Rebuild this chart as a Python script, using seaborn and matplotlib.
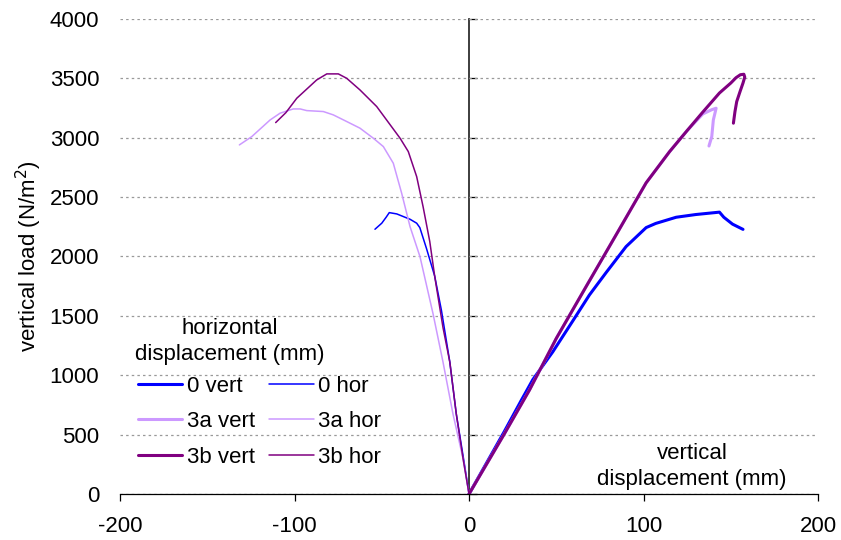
import matplotlib
matplotlib.use("Agg")
import matplotlib.pyplot as plt
import seaborn as sns
import numpy as np

# ---- data ----
v0_x = [0, 10, 20, 30, 36.6, 48, 59.5, 69, 78.6, 90, 101.5, 107, 118.7, 130, 143.5, 146, 151, 157]
v0_y = [0, 260, 520, 790, 964, 1197, 1458, 1676, 1865, 2083, 2243, 2278, 2330, 2353, 2373, 2330, 2272, 2228]

v3a_x = [0, 20, 34.7, 50, 67.2, 85, 101.5, 114.9, 125, 134, 139, 141.6, 140, 139.1, 137.5]
v3a_y = [0, 500, 877, 1310, 1749, 2200, 2620, 2882, 3060, 3200, 3235, 3248, 3149, 3009, 2930]

v3b_x = [0, 20, 34.7, 50, 67.2, 85, 101.5, 114.9, 125, 134, 143.5, 150, 153, 155.5, 157.5, 158, 157, 155.3, 153.4, 152.4, 151.5]
v3b_y = [0, 500, 877, 1310, 1749, 2200, 2620, 2882, 3060, 3216, 3376, 3460, 3505, 3530, 3534, 3510, 3460, 3388, 3304, 3220, 3122]

h0_x = [-53.9, -50, -47.5, -45.7, -41.4, -33.8, -30, -28.2, -24.4, -19.7, -15.8, -11, -7.3, -2.5, 0]
h0_y = [2229, 2280, 2330, 2369, 2358, 2313, 2280, 2243, 2068, 1836, 1545, 1110, 674, 238, 0]

h3a_x = [-131.6, -124.5, -114, -108.3, -100.7, -96.8, -93, -83.5, -77.8, -70.1, -62.5, -54.8, -49.1, -43.4,
         -38.6, -33.8, -28.1, -20.6, -14.9, -9.2, -3.4, 0]
h3a_y = [2939, 3009, 3149, 3206, 3242, 3242, 3228, 3220, 3192, 3136, 3080, 2995, 2925, 2785,
         2532, 2251, 1998, 1516, 1110, 674, 296, 0]

h3b_x = [-110.8, -105, -98.7, -87.3, -81.5, -74.9, -70.1, -62.5, -52.9, -39.5, -34.8, -30, -26.3, -22.5,
         -19.7, -14.9, -11, -7.3, -3.4, 0]
h3b_y = [3127, 3210, 3332, 3486, 3537, 3537, 3500, 3402, 3262, 2995, 2883, 2672, 2417, 2126,
         1836, 1400, 1110, 674, 296, 0]

x_ticks = [-200, -100, 0, 100, 200]
y_ticks = [0, 500, 1000, 1500, 2000, 2500, 3000, 3500, 4000]

c_blue = "#0000FF"
c_lilac = "#CC99FF"
c_purple = "#800080"

sns.set_theme(style="white")
plt.rcParams['font.family'] = ['Liberation Sans', 'DejaVu Sans']
plt.rcParams['axes.unicode_minus'] = False
plt.rcParams['text.color'] = 'black'
plt.rcParams['axes.labelcolor'] = 'black'
plt.rcParams['xtick.color'] = 'black'
plt.rcParams['ytick.color'] = 'black'

FS = 16

fig = plt.figure(figsize=(8.41, 5.40), dpi=100)
ax = fig.add_axes([0.1427, 0.0852, 0.9727 - 0.1427, 0.965 - 0.0852])

series = [
    (v0_x, v0_y, c_blue, 2.2, "0 vert"),
    (h0_x, h0_y, c_blue, 1.1, "0 hor"),
    (v3a_x, v3a_y, c_lilac, 2.2, "3a vert"),
    (h3a_x, h3a_y, c_lilac, 1.1, "3a hor"),
    (v3b_x, v3b_y, c_purple, 2.2, "3b vert"),
    (h3b_x, h3b_y, c_purple, 1.1, "3b hor"),
]
for xs, ys, col, lw, lab in series:
    sns.lineplot(x=xs, y=ys, sort=False, estimator=None, color=col, lw=lw, ax=ax, label=lab)
handles = {ln.get_label(): ln for ln in ax.get_lines()}

ax.set_xlim(-200, 200)
ax.set_ylim(0, 4000)
ax.set_xticks(x_ticks)
ax.set_yticks(y_ticks)
ax.yaxis.grid(True, color="#999999", linestyle=(0, (2, 2.5)), lw=0.9)
ax.xaxis.grid(False)
for s in ["top", "right", "left"]:
    ax.spines[s].set_visible(False)
ax.spines["bottom"].set_color("black")
ax.spines["bottom"].set_linewidth(0.9)
ax.tick_params(axis="x", direction="out", length=5, width=0.9, color="black", labelsize=FS, pad=11, bottom=True)
ax.tick_params(axis="y", length=0, labelsize=FS, pad=15)

sec = ax.secondary_yaxis(0.5)
sec.set_yticks(y_ticks)
sec.tick_params(axis="y", direction="out", length=6, width=0.9, color="black", labelleft=False, labelright=False)
sec.spines["left"].set_color("black")
sec.spines["left"].set_linewidth(0.9)

ax.set_ylabel("vertical load (N/m$^2$)", fontsize=FS, labelpad=4)
ax.set_xlabel("")

order = ["0 vert", "3a vert", "3b vert", "0 hor", "3a hor", "3b hor"]
ax.legend([handles[k] for k in order], order, ncol=2, loc="upper left",
          bbox_to_anchor=(0.013, 0.268), borderaxespad=0, frameon=False, fontsize=FS,
          handlelength=2.0, handletextpad=0.2, columnspacing=0.65, labelspacing=0.66)

ax.text(-137, 1284, "horizontal\ndisplacement (mm)", fontsize=FS, ha="center", va="center",
        linespacing=1.3)
ax.text(127.8, 232, "vertical\ndisplacement (mm)", fontsize=FS, ha="center", va="center",
        linespacing=1.3)

fig.savefig("out.png", dpi=100)
